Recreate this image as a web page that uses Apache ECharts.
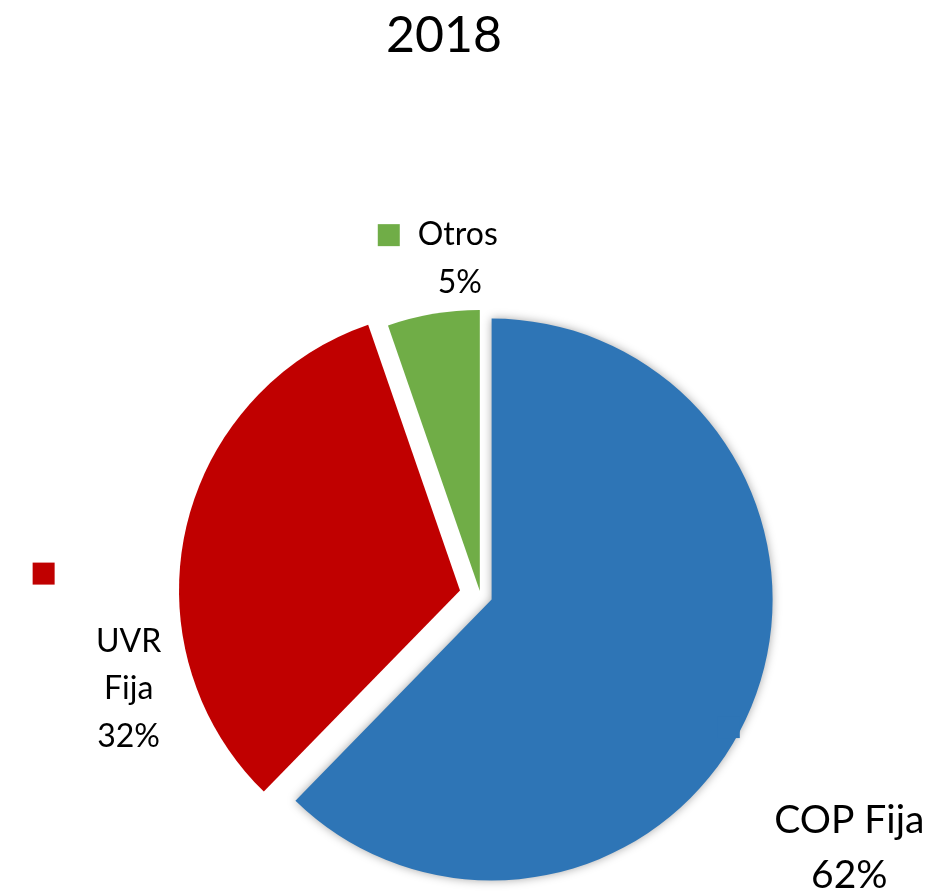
<!DOCTYPE html>
<html>
<head>
<meta charset="utf-8">
<script src="https://cdn.jsdelivr.net/npm/echarts@6/dist/echarts.min.js"></script>
<style>
html,body{margin:0;padding:0;background:#fff;}
#chart{width:938px;height:895px;}
</style>
</head>
<body>
<div id="chart"></div>
<script>
// ---- data ----
const chartTitle = '2018';
const categories = ['COP Fija', 'UVR Fija', 'Otros'];
const shares = [62.3, 32.4, 5.3];

// ---- styles ----
const colors = ['#2E75B6', '#C00000', '#70AD47'];
const explodeOffsets = [12, 21, 4];
const FONT = 'Lato';

const labelSpecs = [
  { dx: 48.5, dy: 71, align: 'center', fontSize: 39, lineHeight: 55, keyLine: 131, keySpacer: 241, wrap: false },
  { dx: -7.5, dy: 119, align: 'center', fontSize: 32, lineHeight: 47.5, keyLine: 88.5, keySpacer: 170, wrap: true },
  { dx: -18, dy: -40, align: 'left', fontSize: 32, lineHeight: 48, inlineKey: true, gap: 18, pctIndent: 60 }
];

const chart = echarts.init(document.getElementById('chart'), null, { renderer: 'canvas' });

function buildSeries(i) {
  const spec = labelSpecs[i];
  const data = categories.map((name, j) => {
    const item = { name: name, value: shares[j] };
    if (j === i) {
      item.selected = true;
      item.itemStyle = { color: colors[j] };
      if (j === 0) {
        item.itemStyle.shadowBlur = 10;
        item.itemStyle.shadowColor = 'rgba(0,0,0,0.35)';
      }
      item.label = { show: true };
    } else {
      item.itemStyle = { color: 'rgba(0,0,0,0)', borderWidth: 0 };
      item.label = { show: false };
    }
    return item;
  });
  const rich = {
    key: { width: 22, height: 22, backgroundColor: colors[i], lineHeight: spec.inlineKey ? spec.lineHeight : spec.keyLine },
    sp: { width: spec.inlineKey ? spec.pctIndent : spec.keySpacer, height: 1, lineHeight: spec.inlineKey ? spec.lineHeight : spec.keyLine },
    gap: { width: spec.gap || 0, height: 1, lineHeight: spec.lineHeight },
    t: { fontFamily: FONT, fontSize: spec.fontSize, lineHeight: spec.lineHeight, color: '#000' }
  };
  return {
    type: 'pie',
    radius: 281,
    center: [480.5, 595],
    startAngle: 90,
    clockwise: true,
    selectedMode: 'multiple',
    selectedOffset: explodeOffsets[i],
    avoidLabelOverlap: false,
    silent: true,
    emphasis: { disabled: true },
    labelLine: { show: false },
    label: {
      position: 'outside',
      formatter: function (p) {
        const pct = Math.round(p.value) + '%';
        if (spec.inlineKey) {
          return '{key|}{gap|}{t|' + p.name + '}\n{sp|}{t|' + pct + '}';
        }
        const nameLines = spec.wrap ? p.name.split(' ') : [p.name];
        return '{key|}{sp|}\n' + nameLines.map(s => '{t|' + s + '}').join('\n') + '\n{t|' + pct + '}';
      },
      rich: rich
    },
    labelLayout: { dx: spec.dx, dy: spec.dy, align: spec.align, verticalAlign: 'middle' },
    data: data
  };
}

chart.setOption({
  animation: false,
  backgroundColor: '#ffffff',
  title: {
    text: chartTitle,
    left: 439,
    top: 6,
    textAlign: 'center',
    textStyle: { fontFamily: FONT, fontSize: 50, fontWeight: 'normal', color: '#000' }
  },
  series: [buildSeries(0), buildSeries(1), buildSeries(2)]
});
</script>
</body>
</html>
